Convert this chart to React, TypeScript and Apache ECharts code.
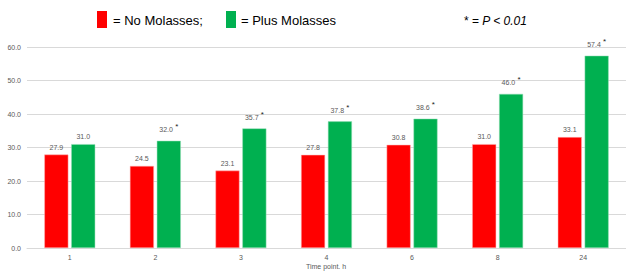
import React, { useEffect, useRef } from "react";
import * as echarts from "echarts";

const categories = ["1", "2", "3", "4", "6", "8", "24"];
const noMolasses = [27.9, 24.5, 23.1, 27.8, 30.8, 31.0, 33.1];
const plusMolasses = [31.0, 32.0, 35.7, 37.8, 38.6, 46.0, 57.4];
const significant = [false, true, true, true, true, true, true];
const yTicks = [0, 10, 20, 30, 40, 50, 60];
const xAxisTitle = "Time point. h";

export default function App() {
  const ref = useRef<HTMLDivElement>(null);
  useEffect(() => {
    const chart = echarts.init(ref.current!, null, { renderer: "svg", width: 626, height: 271 });
    const font = "Liberation Sans, Arial, sans-serif";
    chart.setOption({
      animation: false,
      textStyle: { fontFamily: font },
      grid: { left: 27, right: 0, top: 47, bottom: 23, containLabel: false, outerBoundsMode: "none" },
      xAxis: {
        type: "category",
        data: categories,
        axisLine: { show: true, lineStyle: { color: "#d9d9d9" } },
        axisTick: { show: false },
        axisLabel: { fontSize: 7, color: "#595959", margin: 6 },
      },
      yAxis: {
        type: "value",
        min: yTicks[0],
        max: yTicks[yTicks.length - 1],
        interval: 10,
        axisLine: { show: false },
        axisTick: { show: false },
        splitLine: { lineStyle: { color: "#d9d9d9" } },
        axisLabel: {
          fontSize: 7,
          color: "#595959",
          margin: 6,
          formatter: (v: number) => v.toFixed(1),
        },
      },
      series: [
        {
          type: "bar",
          name: "No Molasses",
          data: noMolasses,
          barWidth: 24,
          barGap: "12%",
          itemStyle: { color: "#ff0000", borderColor: "#ffb3b3", borderWidth: 0.5 },
          label: {
            show: true,
            position: "top",
            distance: 4,
            fontSize: 7,
            color: "#595959",
            formatter: (p: any) => p.value.toFixed(1),
          },
        },
        {
          type: "bar",
          name: "Plus Molasses",
          data: plusMolasses,
          barWidth: 24,
          barGap: "12%",
          itemStyle: { color: "#00b050", borderColor: "#99dfb9", borderWidth: 0.5 },
          label: {
            show: true,
            position: "top",
            distance: 4,
            fontSize: 7,
            color: "#595959",
            formatter: (p: any) =>
              significant[p.dataIndex]
                ? "{v|" + p.value.toFixed(1) + "}{s| *}"
                : "{v|" + p.value.toFixed(1) + "}",
            rich: {
              v: { fontSize: 7, color: "#595959" },
              s: { fontSize: 8, color: "#222", padding: [0, 0, 6, 0] },
            },
          },
        },
      ],
      graphic: [
        {
          type: "text",
          x: 326,
          y: 266,
          style: {
            text: xAxisTitle,
            fontSize: 7,
            fontFamily: font,
            fill: "#595959",
            align: "center",
            verticalAlign: "middle",
          },
        },
        { type: "rect", shape: { x: 97, y: 11, width: 10, height: 17 }, style: { fill: "#ff0000" } },
        {
          type: "text",
          x: 113,
          y: 20,
          style: { text: "= No Molasses;", fontSize: 13, fontFamily: font, fill: "#000", verticalAlign: "middle" },
        },
        { type: "rect", shape: { x: 226, y: 11, width: 10, height: 17 }, style: { fill: "#00b050" } },
        {
          type: "text",
          x: 241,
          y: 20,
          style: { text: "= Plus Molasses", fontSize: 13, fontFamily: font, fill: "#000", verticalAlign: "middle" },
        },
        {
          type: "text",
          x: 464,
          y: 21,
          style: {
            text: "* = {i|P < 0.01}",
            fontSize: 12,
            fontFamily: font,
            fill: "#000",
            verticalAlign: "middle",
            rich: { i: { fontStyle: "italic", fontSize: 12, fontFamily: font } },
          },
        },
      ],
    });
    return () => chart.dispose();
  }, []);
  return (
    <div
      ref={ref}
      style={{ position: "absolute", left: 0, top: 0, width: 626, height: 271, background: "#fff" }}
    />
  );
}
